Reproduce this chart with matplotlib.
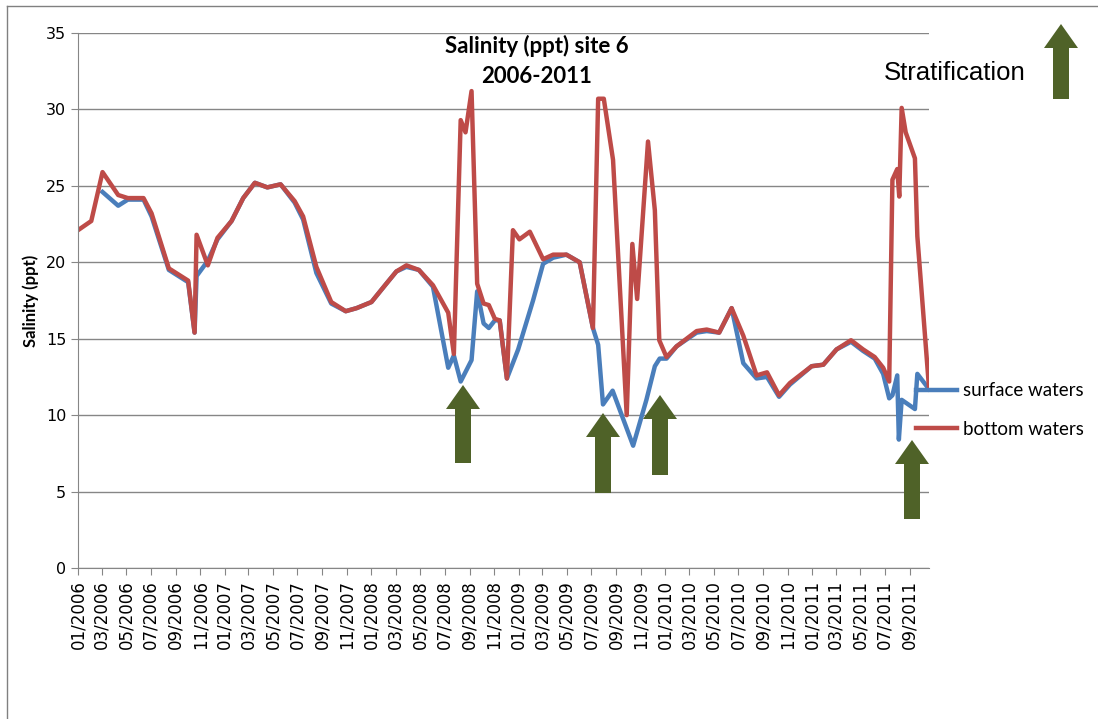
import matplotlib
matplotlib.use("Agg")
import matplotlib.pyplot as plt
import matplotlib.dates as mdates
from matplotlib.patches import Polygon
from matplotlib.lines import Line2D
import pandas as pd

# bottom waters (red)
bottom_dates = [
    "2006-01-01", "2006-02-03", "2006-03-03", "2006-04-11", "2006-05-05", "2006-06-13",
    "2006-07-03", "2006-08-15", "2006-10-02", "2006-10-18", "2006-10-23", "2006-11-20",
    "2006-12-14", "2007-01-18", "2007-02-16", "2007-03-17", "2007-04-17", "2007-05-20",
    "2007-06-24", "2007-07-15", "2007-08-17", "2007-09-23", "2007-10-29", "2007-11-25",
    "2008-01-01", "2008-02-07", "2008-03-03", "2008-03-28", "2008-04-28", "2008-06-02",
    "2008-07-10", "2008-07-24", "2008-08-10", "2008-08-22", "2008-09-06", "2008-09-20",
    "2008-10-06", "2008-10-19", "2008-11-03", "2008-11-15", "2008-12-03", "2008-12-18",
    "2009-01-03", "2009-01-29", "2009-03-03", "2009-03-28", "2009-04-30", "2009-06-02",
    "2009-07-05", "2009-07-18", "2009-08-01", "2009-08-24", "2009-09-27", "2009-10-11",
    "2009-10-23", "2009-11-19", "2009-12-06", "2009-12-17", "2010-01-04", "2010-01-29",
    "2010-03-20", "2010-04-14", "2010-05-15", "2010-06-15", "2010-07-14", "2010-08-16",
    "2010-09-11", "2010-10-11", "2010-11-07", "2010-12-31", "2011-01-29", "2011-03-03",
    "2011-04-08", "2011-05-08", "2011-06-06", "2011-06-27", "2011-07-12", "2011-07-20",
    "2011-08-01", "2011-08-06", "2011-08-12", "2011-08-22", "2011-09-14", "2011-09-20",
    "2011-10-19",
]
bottom_vals = [
    22.1, 22.7, 25.9, 24.4, 24.2, 24.2,
    23.2, 19.6, 18.8, 15.4, 21.8, 19.8,
    21.6, 22.7, 24.2, 25.2, 24.9, 25.1,
    24.0, 23.0, 19.7, 17.4, 16.8, 17.0,
    17.4, 18.6, 19.4, 19.8, 19.5, 18.5,
    16.7, 14.0, 29.3, 28.5, 31.2, 18.6,
    17.3, 17.2, 16.3, 16.2, 12.4, 22.1,
    21.5, 22.0, 20.2, 20.5, 20.5, 20.0,
    15.7, 30.7, 30.7, 26.7, 10.0, 21.2,
    17.6, 27.9, 23.4, 14.9, 13.8, 14.5,
    15.5, 15.6, 15.4, 17.0, 15.2, 12.6,
    12.8, 11.3, 12.1, 13.2, 13.3, 14.3,
    14.9, 14.3, 13.8, 13.1, 12.2, 25.4,
    26.1, 24.3, 30.1, 28.5, 26.8, 21.7,
    11.8,
]

# surface waters (blue)
surface_dates = [
    "2006-03-03", "2006-04-11", "2006-05-05", "2006-06-13", "2006-07-03", "2006-08-15",
    "2006-10-02", "2006-10-18", "2006-10-23", "2006-11-20", "2006-12-14", "2007-01-18",
    "2007-02-16", "2007-03-17", "2007-04-17", "2007-05-20", "2007-06-24", "2007-07-15",
    "2007-08-17", "2007-09-23", "2007-10-29", "2007-11-25", "2008-01-01", "2008-02-07",
    "2008-03-03", "2008-03-28", "2008-04-28", "2008-06-02", "2008-07-10", "2008-07-24",
    "2008-08-10", "2008-09-06", "2008-09-20", "2008-10-06", "2008-10-19", "2008-11-03",
    "2008-11-15", "2008-12-03", "2008-12-31", "2009-02-06", "2009-03-03", "2009-03-28",
    "2009-04-30", "2009-06-02", "2009-07-05", "2009-07-18", "2009-07-30", "2009-08-23",
    "2009-10-13", "2009-11-15", "2009-12-06", "2009-12-18", "2010-01-04", "2010-01-29",
    "2010-03-20", "2010-04-14", "2010-05-15", "2010-06-15", "2010-07-14", "2010-08-16",
    "2010-09-11", "2010-10-11", "2010-11-07", "2010-12-31", "2011-01-29", "2011-03-03",
    "2011-04-08", "2011-05-08", "2011-06-06", "2011-06-27", "2011-07-12", "2011-07-20",
    "2011-08-01", "2011-08-05", "2011-08-12", "2011-09-14", "2011-09-20", "2011-10-19",
]
surface_vals = [
    24.6, 23.7, 24.1, 24.1, 23.0, 19.5,
    18.7, 15.4, 19.1, 20.1, 21.5, 22.7,
    24.2, 25.2, 24.9, 25.1, 23.9, 22.8,
    19.3, 17.3, 16.8, 17.0, 17.4, 18.6,
    19.4, 19.7, 19.5, 18.4, 13.1, 13.9,
    12.2, 13.6, 18.1, 16.0, 15.7, 16.2,
    16.2, 12.4, 14.3, 17.5, 19.9, 20.3,
    20.5, 20.0, 15.7, 14.6, 10.7, 11.6,
    8.0, 11.0, 13.2, 13.7, 13.7, 14.5,
    15.4, 15.5, 15.4, 17.0, 13.4, 12.4,
    12.5, 11.2, 12.0, 13.2, 13.3, 14.3,
    14.8, 14.2, 13.7, 12.7, 11.1, 11.3,
    12.6, 8.4, 11.0, 10.4, 12.7, 11.7,
]

BLUE = "#4A7EBB"
RED = "#BE4B48"
ARROW = "#4F6228"
GRID = "#868686"

W, H = 1098, 719
fig = plt.figure(figsize=(W / 100, H / 100), dpi=100)
ax = fig.add_axes([78 / W, 1 - 568 / H, (929 - 78) / W, (568 - 33) / H])

ax.plot(pd.to_datetime(surface_dates), surface_vals, color=BLUE, lw=3.2,
        label="surface waters", solid_joinstyle="round")
ax.plot(pd.to_datetime(bottom_dates), bottom_vals, color=RED, lw=3.2,
        label="bottom waters", solid_joinstyle="round")

ax.set_xlim(pd.Timestamp("2006-01-01"), pd.Timestamp("2011-10-19"))
ax.set_ylim(0, 35)
ax.set_yticks(range(0, 36, 5))
ax.xaxis.set_major_locator(mdates.MonthLocator(bymonth=[1, 3, 5, 7, 9, 11]))
ax.xaxis.set_major_formatter(mdates.DateFormatter("%m/%Y"))
ax.tick_params(axis="x", rotation=90, labelsize=12, length=5, color=GRID)
ax.tick_params(axis="y", labelsize=11.5, length=5, color=GRID)
ax.grid(axis="y", color=GRID, lw=1)
ax.set_axisbelow(True)
for s in ["top", "right"]:
    ax.spines[s].set_visible(False)
for s in ["left", "bottom"]:
    ax.spines[s].set_color(GRID)

ax.set_ylabel("Salinity (ppt)", fontsize=12, fontweight="bold", family="Lato", labelpad=5)

fig.text(537 / W, 1 - 61 / H, "Salinity (ppt) site 6\n2006-2011", ha="center", va="center",
         fontsize=16, fontweight="bold", family="Lato", linespacing=1.5)
fig.text(955 / W, 1 - 73 / H, "Stratification", ha="center", va="center",
         fontsize=18.5, family="Liberation Sans")

fig.legend(loc="center left", bbox_to_anchor=(916 / W, 1 - 410 / H), frameon=False,
           prop={"family": "Lato", "size": 13.5}, handlelength=2.2, handletextpad=0.3,
           labelspacing=1.15, borderpad=0, borderaxespad=0)


def up_arrow(cx, tip, bottom, shaft=16, head=34, head_len=24):
    pts = [(cx - shaft / 2, bottom), (cx - shaft / 2, tip + head_len),
           (cx - head / 2, tip + head_len), (cx, tip), (cx + head / 2, tip + head_len),
           (cx + shaft / 2, tip + head_len), (cx + shaft / 2, bottom)]
    pts = [(x / W, 1 - y / H) for x, y in pts]
    fig.add_artist(Polygon(pts, closed=True, facecolor=ARROW, edgecolor="none",
                           transform=fig.transFigure))


up_arrow(463, 385, 463)
up_arrow(603, 413, 493)
up_arrow(660, 395, 475)
up_arrow(912, 440, 519)
up_arrow(1061, 24, 99)

# chart frame
fig.add_artist(Line2D([7 / W, 7 / W], [0, 1 - 6 / H], color="#808080", lw=1, transform=fig.transFigure))
fig.add_artist(Line2D([7 / W, 1], [1 - 6 / H, 1 - 6 / H], color="#808080", lw=1, transform=fig.transFigure))

fig.savefig("out.png", dpi=100)
